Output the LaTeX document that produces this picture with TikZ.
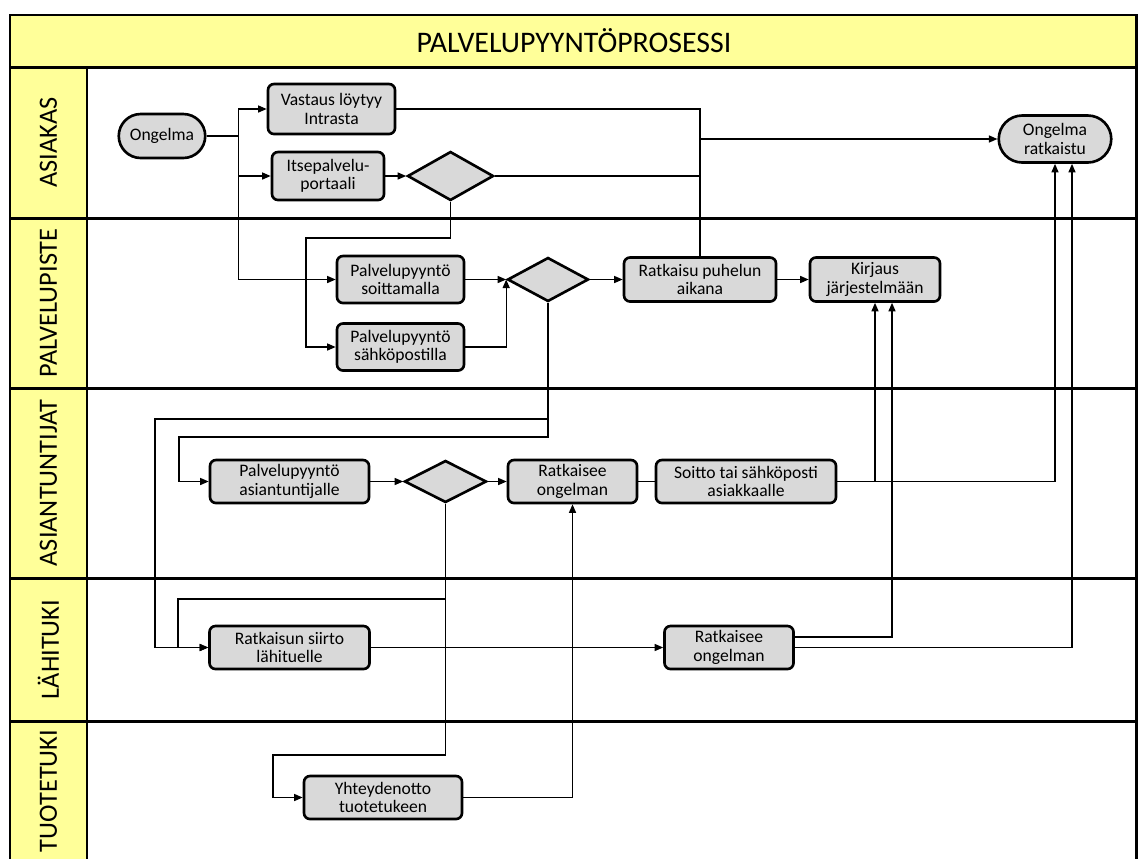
\documentclass[tikz,border=0pt]{standalone}
\usepackage{fontspec}
\setmainfont{Carlito}
\usepackage{tikz}
\usetikzlibrary{positioning}
\usetikzlibrary{shapes.geometric}
\usetikzlibrary{shapes.misc}
\usetikzlibrary{arrows.meta}
\definecolor{laneyellow}{RGB}{255,255,153}
\definecolor{taskgray}{RGB}{217,217,217}

\begin{document}
\begin{tikzpicture}[x=0.2mm, y=-0.2mm,
	task/.style={draw, line width=1.5pt, rounded corners=1.2mm, fill=taskgray, align=center, inner sep=1pt, font=\fontsize{10}{10.4}\selectfont},
	terminal/.style={draw, line width=1.5pt, rounded rectangle, fill=taskgray, align=center, inner sep=1pt, font=\fontsize{10}{10.4}\selectfont},
	decision/.style={draw, line width=1.5pt, diamond, fill=taskgray, inner sep=0pt},
	laneline/.style={line width=1.7pt},
	lanelabel/.style={rotate=90, font=\fontsize{15}{16}\selectfont},
	flow/.style={line width=0.75pt},
	arr/.style={flow, -{Triangle[length=1.7mm, width=1.4mm]}}]
	\useasboundingbox (0,0) rectangle (1139,858);
	% Draw the lanes
	\fill [laneyellow] (10,15) rectangle (1136,67);
	\fill [laneyellow] (10,67) rectangle (87,870);
	\draw [laneline] (10,870) -- (10,15) -- (1136,15) -- (1136,870);
	\draw [laneline] (10,67) -- (1136,67);
	\draw [laneline] (87,67) -- (87,870);
	\draw [laneline] (10,218) -- (1136,218);
	\draw [laneline] (10,388) -- (1136,388);
	\draw [laneline] (10,578) -- (1136,578);
	\draw [laneline] (10,721) -- (1136,721);
	\node [font=\fontsize{17}{18}\selectfont] at (574,41) (0title) {PALVELUPYYNTÖPROSESSI};
	\node [lanelabel] at (48.5,142.5) (1lane) {ASIAKAS};
	\node [lanelabel] at (48.5,303) (2lane) {PALVELUPISTE};
	\node [lanelabel] at (48.5,483) (3lane) {ASIANTUNTIJAT};
	\node [lanelabel] at (48.5,649.5) (4lane) {LÄHITUKI};
	\node [lanelabel] at (48.5,791) (5lane) {TUOTETUKI};

	% Draw the nodes
	% Lane 1
	\node [terminal, minimum width=18mm, minimum height=8.8mm] at (162,136) (1ongelma) {Ongelma};
	\node [task, minimum width=25.4mm, minimum height=10mm] at (331.5,109) (1vastaus) {Vastaus löytyy\\Intrasta};
	\node [task, minimum width=22.4mm, minimum height=9.6mm] at (328,176) (1itse) {Itsepalvelu-\\portaali};
	\node [on grid, right=24.5mm of 1itse, decision, minimum width=17.2mm, minimum height=9.8mm] (1d) {};
	\node [terminal, minimum width=23.2mm, minimum height=9.4mm] at (1055,139) (1ratkaistu) {Ongelma\\ratkaistu};
	% Lane 2
	\node [task, minimum width=25.4mm, minimum height=9.4mm] at (400.5,279.5) (2soitto) {Palvelupyyntö\\soittamalla};
	\node [on grid, below=13.5mm of 2soitto, task, minimum width=25.4mm, minimum height=9.4mm] (2sposti) {Palvelupyyntö\\sähköpostilla};
	\node [on grid, right=29.5mm of 2soitto, decision, minimum width=16.2mm, minimum height=8.8mm] (2d) {};
	\node [on grid, right=30.4mm of 2d, task, minimum width=30.4mm, minimum height=8.8mm] (2puhelu) {Ratkaisu puhelun\\aikana};
	\node [on grid, right=35mm of 2puhelu, task, minimum width=26mm, minimum height=8.8mm] (2kirjaus) {Kirjaus\\järjestelmään};
	% Lane 3
	\node [task, minimum width=31.8mm, minimum height=8.6mm] at (289.5,481.5) (3pyynto) {Palvelupyyntö\\asiantuntijalle};
	\node [on grid, right=31.2mm of 3pyynto, decision, minimum width=16.4mm, minimum height=8.4mm] (3d) {};
	\node [on grid, right=25.4mm of 3d, task, minimum width=25.8mm, minimum height=8.6mm] (3ratkaisee) {Ratkaisee\\ongelman};
	\node [on grid, right=34.7mm of 3ratkaisee, task, minimum width=36mm, minimum height=8.6mm] (3soitto) {Soitto tai sähköposti\\asiakkaalle};
	% Lane 4
	\node [on grid, below=33.2mm of 3pyynto, task, minimum width=32mm, minimum height=8.6mm] (4siirto) {Ratkaisun siirto\\lähituelle};
	\node [on grid, right=87.9mm of 4siirto, task, minimum width=25.8mm, minimum height=8.6mm] (4ratkaisee) {Ratkaisee\\ongelman};
	% Lane 5
	\node [task, minimum width=31.6mm, minimum height=8.6mm] at (383,797.5) (5yhteys) {Yhteydenotto\\tuotetukeen};

	% Bends of the connectors
	\coordinate [right=6.4mm of 1ongelma.east] (1split);
	\coordinate (1join) at (2puhelu |- 1ratkaistu);
	\coordinate (1bend) at (306,238);
	\coordinate (3far) at (155,419);
	\coordinate (3near) at (179,437);
	\coordinate (4near) at (178,599);
	\coordinate (5bend) at (273,755);

	% Draw the paths between nodes
	\draw [flow] (node cs:name=1ongelma, anchor=east) -- (1split);
	\draw [arr] (1split) |- (node cs:name=1vastaus, anchor=west);
	\draw [arr] (1split) |- (node cs:name=1itse, anchor=west);
	\draw [arr] (1split) |- (node cs:name=2soitto, anchor=west);
	\draw [arr] (node cs:name=1itse, anchor=east) -- (node cs:name=1d, anchor=west);
	\draw [flow] (node cs:name=1vastaus, anchor=east) -| (1join);
	\draw [flow] (node cs:name=1d, anchor=east) -| (1join);
	\draw [flow] (node cs:name=2puhelu, anchor=north) -- (1join);
	\draw [arr] (1join) -- (node cs:name=1ratkaistu, anchor=west);
	\draw [arr] (node cs:name=1d, anchor=south) |- (1bend) |- (node cs:name=2sposti, anchor=west);
	\draw [arr] (node cs:name=2soitto, anchor=east) -- (node cs:name=2d, anchor=west);
	\draw [arr] (node cs:name=2sposti, anchor=east) -| (node cs:name=2d, anchor=west);
	\draw [arr] (node cs:name=2d, anchor=east) -- (node cs:name=2puhelu, anchor=west);
	\draw [arr] (node cs:name=2puhelu, anchor=east) -- (node cs:name=2kirjaus, anchor=west);
	\draw [arr] (node cs:name=2d, anchor=south) |- (3near) |- (node cs:name=3pyynto, anchor=west);
	\draw [arr] (node cs:name=2d, anchor=south) |- (3far) |- (node cs:name=4siirto, anchor=west);
	\draw [arr] (node cs:name=3pyynto, anchor=east) -- (node cs:name=3d, anchor=west);
	\draw [arr] (node cs:name=3d, anchor=east) -- (node cs:name=3ratkaisee, anchor=west);
	\draw [flow] (node cs:name=3ratkaisee, anchor=east) -- (node cs:name=3soitto, anchor=west);
	\draw [arr] (node cs:name=3soitto, anchor=east) -| (node cs:name=2kirjaus, anchor=south);
	\draw [arr] (node cs:name=3soitto, anchor=east) -| (node cs:name=1ratkaistu, anchor=south);
	\draw [arr] (node cs:name=3d, anchor=south) |- (4near) |- (node cs:name=4siirto, anchor=west);
	\draw [arr] (node cs:name=3d, anchor=south) |- (5bend) |- (node cs:name=5yhteys, anchor=west);
	\draw [arr] (node cs:name=4siirto, anchor=east) -- (node cs:name=4ratkaisee, anchor=west);
	\draw [arr] ([yshift=2.1mm]4ratkaisee.east) -| ([xshift=3.4mm]2kirjaus.south);
	\draw [arr] (node cs:name=4ratkaisee, anchor=east) -| ([xshift=3.4mm]1ratkaistu.south);
	\draw [arr] (node cs:name=5yhteys, anchor=east) -| (node cs:name=3ratkaisee, anchor=south);
\end{tikzpicture}
\end{document}
